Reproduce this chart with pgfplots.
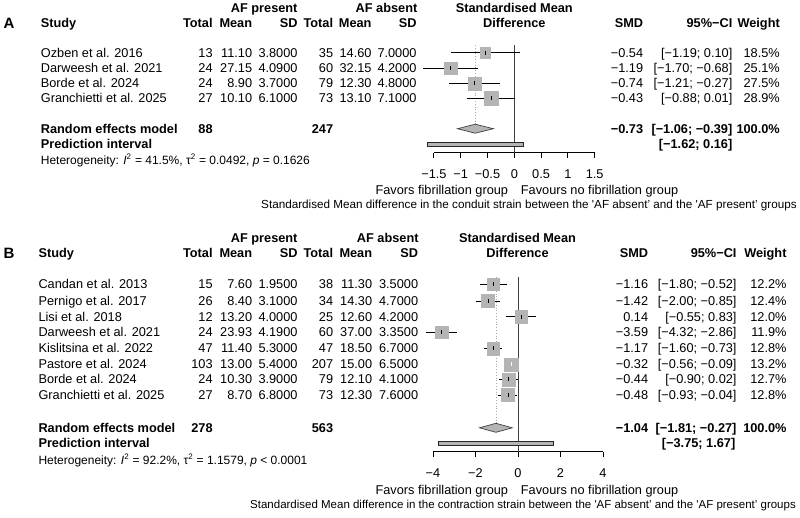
\documentclass[border=0pt]{standalone}
\usepackage{fontspec}
\setmainfont{Liberation Sans}
\usepackage{pgfplots}
\usepackage{pgfplotstable}
\pgfplotsset{compat=1.18}
\definecolor{sqgray}{HTML}{B4B4B4}
\definecolor{lgray}{HTML}{A8A8A8}
\definecolor{zline}{HTML}{404040}
\newcommand{\fs}{\fontsize{12.75}{15}\selectfont}
\newcommand{\TL}[3]{\node[anchor=base west,inner sep=0pt,font=\fs] at (#1pt,{-(#2+4.5)*1pt}) {#3};}
\newcommand{\TR}[3]{\node[anchor=base east,inner sep=0pt,font=\fs] at (#1pt,{-(#2+4.5)*1pt}) {#3};}
\newcommand{\TC}[3]{\node[anchor=base,inner sep=0pt,font=\fs] at (#1pt,{-(#2+4.5)*1pt}) {#3};}
\newcommand{\LRow}[8]{\TL{\cS}{#1}{#2}\TR{\cTa}{#1}{#3}\TR{\cMa}{#1}{#4}\TR{\cSa}{#1}{#5}\TR{\cTb}{#1}{#6}\TR{\cMb}{#1}{#7}\TR{\cSb}{#1}{#8}}
\newcommand{\RRow}[4]{\TR{\cSMD}{#1}{#2}\TR{\cCI}{#1}{#3}\TR{\cW}{#1}{#4}}

\pgfplotstableread{
y smd lo hi w
-52.7 -0.54 -1.19 0.10 18.5
-68.3 -1.19 -1.70 -0.68 25.1
-83.3 -0.74 -1.21 -0.27 27.5
-98.3 -0.43 -0.88 0.01 28.9
}\dataA
\pgfplotstableread{
y smd lo hi w
-284 -1.16 -1.80 -0.52 12.2
-301 -1.42 -2.00 -0.85 12.4
-316.7 0.14 -0.55 0.83 12.0
-332.3 -3.59 -4.32 -2.86 11.9
-348.3 -1.17 -1.60 -0.73 12.8
-364.3 -0.32 -0.56 -0.09 13.2
-379.3 -0.44 -0.90 0.02 12.7
-395 -0.48 -0.93 -0.04 12.8
}\dataB

\pgfplotsset{forestax/.style={anchor=south west, scale only axis, clip=false,
  axis x line*=bottom, axis y line=none, ytick=\empty,
  axis line style={-, line width=0.9pt, black},
  tick align=outside, major tick length=5.3pt, tick style={black, line width=0.9pt},
  xticklabel style={font=\fs, anchor=north, inner sep=0pt, yshift=-11.4pt}}}

\begin{document}
\begin{tikzpicture}
\useasboundingbox (0,0) rectangle (800pt,-517pt);
% ================= Panel A =================
\def\cS{40.7}\def\cTa{212.8}\def\cMa{252.3}\def\cSa{297.7}\def\cTb{333.3}\def\cMb{371.7}\def\cSb{416.7}\def\cSMD{643.3}\def\cCI{732.5}\def\cW{780}
\TR{297.7}{7.5}{\textbf{AF present}}
\TR{417.5}{7.5}{\textbf{AF absent}}
\TC{514.3}{7.5}{\textbf{Standardised Mean}}
\node[anchor=base west,inner sep=0pt,font=\fontsize{15}{18}\selectfont\bfseries] at (3.3pt,-28.6pt) {A};
\LRow{23.3}{\textbf{Study}}{\textbf{Total}}{\textbf{Mean}}{\textbf{SD}}{\textbf{Total}}{\textbf{Mean}}{\textbf{SD}}
\TC{514.3}{23.3}{\textbf{Difference}}
\RRow{23.3}{\textbf{SMD}}{\textbf{95\%−CI}}{\textbf{Weight}}
\LRow{52.7}{Ozben et al. 2016}{13}{11.10}{3.8000}{35}{14.60}{7.0000}
\LRow{68.3}{Darweesh et al. 2021}{24}{27.15}{4.0900}{60}{32.15}{4.2000}
\LRow{83.3}{Borde et al. 2024}{24}{8.90}{3.7000}{79}{12.30}{4.8000}
\LRow{98.3}{Granchietti et al. 2025}{27}{10.10}{6.1000}{73}{13.10}{7.1000}
\RRow{52.7}{−0.54}{[−1.19; 0.10]}{18.5\%}
\RRow{68.3}{−1.19}{[−1.70; −0.68]}{25.1\%}
\RRow{83.3}{−0.74}{[−1.21; −0.27]}{27.5\%}
\RRow{98.3}{−0.43}{[−0.88; 0.01]}{28.9\%}
\TL{\cS}{129}{\textbf{Random effects model}}
\TR{\cTa}{129}{\textbf{88}}
\TR{\cTb}{129}{\textbf{247}}
\RRow{129}{\textbf{−0.73}}{\textbf{[−1.06; −0.39]}}{\textbf{100.0\%}}
\TL{\cS}{144}{\textbf{Prediction interval}}
\TR{\cCI}{144}{\textbf{[−1.62; 0.16]}}
\node[anchor=base west,inner sep=0pt,font=\fontsize{12}{14}\selectfont] at (40.7pt,-164.3pt) {Heterogeneity: \textit{I}\textsuperscript{2} = 41.5\%, τ\textsuperscript{2} = 0.0492, \textit{p} = 0.1626};
\TR{508.3}{190}{Favors fibrillation group}
\TL{520.7}{190}{Favours no fibrillation group}
\node[anchor=base west,inner sep=0pt,font=\fontsize{11.7}{14}\selectfont] at (261pt,-208.2pt) {Standardised Mean difference in the conduit strain between the \textquotesingle AF absent' and the \textquotesingle AF present' groups};

\begin{axis}[forestax, at={(433.9pt,-152.7pt)}, width=160.8pt, height=107.7pt,
  xmin=-1.5, xmax=1.5, ymin=-152.7, ymax=-45,
  xtick={-1.5,-1,-0.5,0,0.5,1,1.5}, xticklabels={−1.5,−1,−0.5,0,0.5,1,1.5}]
\addplot[lgray, dotted, line width=0.8pt] coordinates {(-0.73,-45) (-0.73,-124.2)};
\addplot[zline, line width=0.9pt] coordinates {(0,-45) (0,-152.7)};
\addplot[scatter, only marks, mark=square*, scatter/use mapped color={draw=sqgray, fill=sqgray},
  visualization depends on={1.24*sqrt(\thisrow{w}) \as \ms},
  scatter/@pre marker code/.append style={/tikz/mark size=\ms}] table[x=smd, y=y] {\dataA};
\addplot[black, only marks, mark=|, mark size=2pt, mark options={line width=0.6pt},
  error bars/.cd, x dir=both, x explicit, error mark=none, error bar style={black, line width=0.8pt}]
  table[x=smd, y=y, x error plus expr=\thisrow{hi}-\thisrow{smd}, x error minus expr=\thisrow{smd}-\thisrow{lo}] {\dataA};
\addplot[fill=sqgray, draw=black!75, line width=0.7pt] coordinates {(-1.06,-128.7) (-0.73,-124.2) (-0.39,-128.7) (-0.73,-133.2)} --cycle;
\addplot[fill=sqgray, draw=black!85, line width=0.7pt] coordinates {(-1.62,-142.6) (0.16,-142.6) (0.16,-146.0) (-1.62,-146.0)} --cycle;
\end{axis}

% ================= Panel B =================
\def\cS{38.3}\def\cTa{212.8}\def\cMa{252.3}\def\cSa{297.7}\def\cTb{333.3}\def\cMb{372.3}\def\cSb{418.3}\def\cSMD{648.3}\def\cCI{736.7}\def\cW{786.7}
\TR{297.7}{237.7}{\textbf{AF present}}
\TR{418.8}{237.7}{\textbf{AF absent}}
\TC{517.5}{237.7}{\textbf{Standardised Mean}}
\node[anchor=base west,inner sep=0pt,font=\fontsize{15}{18}\selectfont\bfseries] at (3.3pt,-258.3pt) {B};
\LRow{253}{\textbf{Study}}{\textbf{Total}}{\textbf{Mean}}{\textbf{SD}}{\textbf{Total}}{\textbf{Mean}}{\textbf{SD}}
\TC{517.5}{253}{\textbf{Difference}}
\RRow{253}{\textbf{SMD}}{\textbf{95\%−CI}}{\textbf{Weight}}
\LRow{284}{Candan et al. 2013}{15}{7.60}{1.9500}{38}{11.30}{3.5000}
\LRow{301}{Pernigo et al. 2017}{26}{8.40}{3.1000}{34}{14.30}{4.7000}
\LRow{316.7}{Lisi et al. 2018}{12}{13.20}{4.0000}{25}{12.60}{4.2000}
\LRow{332.3}{Darweesh et al. 2021}{24}{23.93}{4.1900}{60}{37.00}{3.3500}
\LRow{348.3}{Kislitsina et al. 2022}{47}{11.40}{5.3000}{47}{18.50}{6.7000}
\LRow{364.3}{Pastore et al. 2024}{103}{13.00}{5.4000}{207}{15.00}{6.5000}
\LRow{379.3}{Borde et al. 2024}{24}{10.30}{3.9000}{79}{12.10}{4.1000}
\LRow{395}{Granchietti et al. 2025}{27}{8.70}{6.8000}{73}{12.30}{7.6000}
\RRow{284}{−1.16}{[−1.80; −0.52]}{12.2\%}
\RRow{301}{−1.42}{[−2.00; −0.85]}{12.4\%}
\RRow{316.7}{0.14}{[−0.55; 0.83]}{12.0\%}
\RRow{332.3}{−3.59}{[−4.32; −2.86]}{11.9\%}
\RRow{348.3}{−1.17}{[−1.60; −0.73]}{12.8\%}
\RRow{364.3}{−0.32}{[−0.56; −0.09]}{13.2\%}
\RRow{379.3}{−0.44}{[−0.90; 0.02]}{12.7\%}
\RRow{395}{−0.48}{[−0.93; −0.04]}{12.8\%}
\TL{\cS}{428}{\textbf{Random effects model}}
\TR{\cTa}{428}{\textbf{278}}
\TR{\cTb}{428}{\textbf{563}}
\RRow{428}{\textbf{−1.04}}{\textbf{[−1.81; −0.27]}}{\textbf{100.0\%}}
\TL{\cS}{443}{\textbf{Prediction interval}}
\TR{735.5}{443}{\textbf{[−3.75; 1.67]}}
\node[anchor=base west,inner sep=0pt,font=\fontsize{12}{14}\selectfont] at (38.3pt,-464.3pt) {Heterogeneity: \textit{I}\textsuperscript{2} = 92.2\%, τ\textsuperscript{2} = 1.1579, \textit{p} < 0.0001};
\TR{508.3}{490}{Favors fibrillation group}
\TL{520.7}{490}{Favours no fibrillation group}
\node[anchor=base west,inner sep=0pt,font=\fontsize{11.5}{14}\selectfont] at (250pt,-508.2pt) {Standardised Mean difference in the contraction strain between the \textquotesingle AF absent' and the \textquotesingle AF present' groups};

\begin{axis}[forestax, at={(433pt,-451.7pt)}, width=170pt, height=175pt,
  xmin=-4, xmax=4, ymin=-451.7, ymax=-276.7,
  xtick={-4,-2,0,2,4}, xticklabels={−4,−2,0,2,4}]
\addplot[lgray, dotted, line width=0.8pt] coordinates {(-1.04,-276.7) (-1.04,-423.3)};
\addplot[zline, line width=0.9pt] coordinates {(0,-276.7) (0,-451.7)};
\addplot[scatter, only marks, mark=square*, scatter/use mapped color={draw=sqgray, fill=sqgray},
  visualization depends on={1.8*sqrt(\thisrow{w}) \as \ms},
  scatter/@pre marker code/.append style={/tikz/mark size=\ms}] table[x=smd, y=y] {\dataB};
\addplot[black, only marks, mark=|, mark size=2pt, mark options={line width=0.6pt},
  skip coords between index={5}{6},
  error bars/.cd, x dir=both, x explicit, error mark=none, error bar style={black, line width=0.8pt}]
  table[x=smd, y=y, x error plus expr=\thisrow{hi}-\thisrow{smd}, x error minus expr=\thisrow{smd}-\thisrow{lo}] {\dataB};
\addplot[white, only marks, mark=|, mark size=2pt, mark options={line width=0.6pt},
  error bars/.cd, x dir=both, x explicit, error mark=none, error bar style={white, line width=0.8pt}]
  coordinates {(-0.32,-364.3) += (0.23,0) -= (0.24,0)};
\addplot[fill=sqgray, draw=black!75, line width=0.7pt] coordinates {(-1.81,-427.8) (-1.04,-423.3) (-0.27,-427.8) (-1.04,-432.3)} --cycle;
\addplot[fill=sqgray, draw=black!85, line width=0.7pt] coordinates {(-3.75,-441.6) (1.67,-441.6) (1.67,-445.0) (-3.75,-445.0)} --cycle;
\end{axis}
\end{tikzpicture}
\end{document}
